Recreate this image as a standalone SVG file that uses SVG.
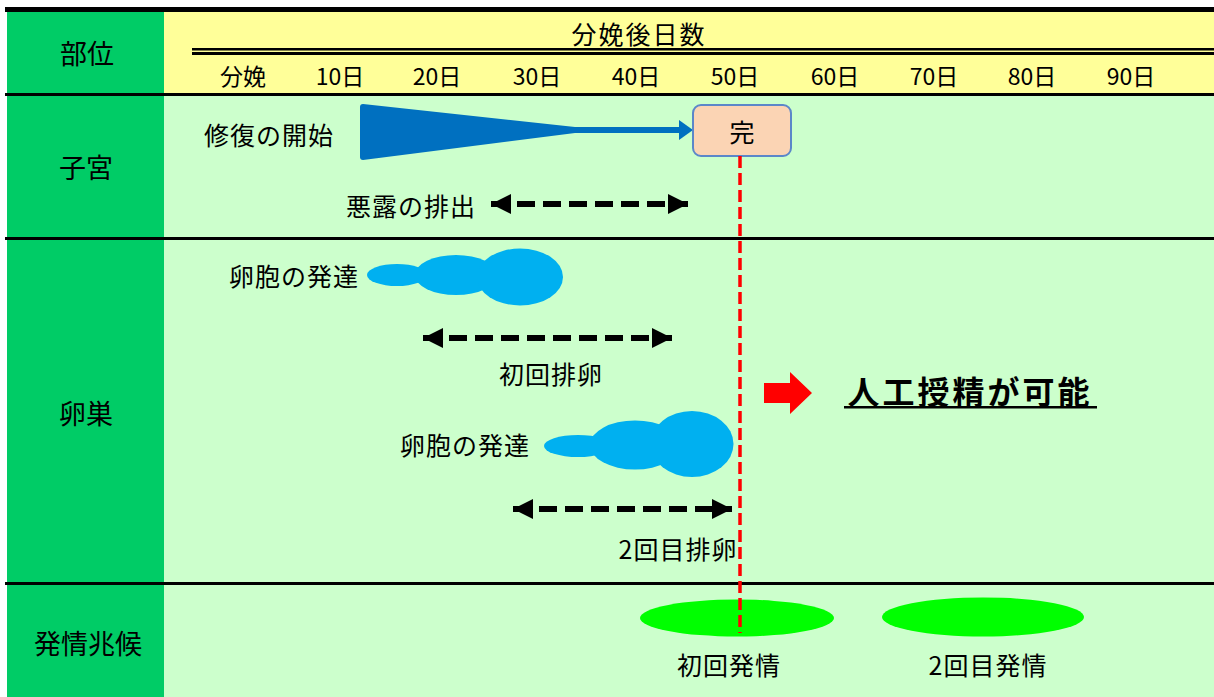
<svg xmlns="http://www.w3.org/2000/svg" width="1214" height="697" viewBox="0 0 1214 697">
<defs>
<style>
text{font-family:"Noto Sans CJK JP","Noto Sans",sans-serif;fill:#000;text-anchor:middle;dominant-baseline:central}
.lbl{font-size:27px}
.tick{font-size:23px}
.t{font-size:25px;letter-spacing:1px}
.dash{stroke:#000;stroke-width:6;stroke-dasharray:18 8;fill:none}
.bar{fill:#000}
.blob{fill:#00B0F0}
.estrus{fill:#00FF00}
</style>
<marker id="ah" viewBox="0 0 20 20" refX="20" refY="10" markerWidth="21" markerHeight="20" markerUnits="userSpaceOnUse" orient="auto-start-reverse">
<path d="M0,0 L20,10 L0,20 z" fill="#000"/>
</marker>
</defs>
<rect width="1214" height="697" fill="#fff"/>
<!-- backgrounds -->
<rect x="164" y="12" width="1050" height="82" fill="#FFFF99"/>
<rect x="164" y="94" width="1050" height="603" fill="#CCFFCC"/>
<rect x="7" y="12" width="157" height="685" fill="#00CC66"/>
<!-- lines -->
<rect class="bar" x="5" y="7" width="1209" height="5"/>
<rect class="bar" x="192" y="48" width="1022" height="2.5"/>
<rect class="bar" x="192" y="52" width="1022" height="3"/>
<rect class="bar" x="5" y="93" width="1209" height="3"/>
<rect class="bar" x="5" y="237" width="1209" height="3"/>
<rect class="bar" x="5" y="582" width="1209" height="3"/>
<!-- header -->
<g id="header">
<text class="lbl" x="87" y="52">部位</text>
<text x="639" y="33" style="font-size:25px;letter-spacing:2px">分娩後日数</text>
<text class="tick" x="243" y="75">分娩</text>
<text class="tick" x="340" y="75">10日</text>
<text class="tick" x="437" y="75">20日</text>
<text class="tick" x="537" y="75">30日</text>
<text class="tick" x="636" y="75">40日</text>
<text class="tick" x="735" y="75">50日</text>
<text class="tick" x="835" y="75">60日</text>
<text class="tick" x="934" y="75">70日</text>
<text class="tick" x="1032" y="75">80日</text>
<text class="tick" x="1131" y="75">90日</text>
</g>
<g id="row-labels">
<text class="lbl" x="86" y="166">子宮</text>
<text class="lbl" x="86" y="412">卵巣</text>
<text class="lbl" x="88" y="642">発情兆候</text>
</g>
<!-- uterus -->
<g id="uterus-repair">
<text class="t" x="269" y="134">修復の開始</text>
<path d="M363,104 L575,127 L575,133 L363,160 Q360,160 360,157 L360,107 Q360,104 363,104 z" fill="#0070C0"/>
<rect x="574" y="127" width="107" height="6" fill="#0070C0"/>
<path d="M679,120 L693,130 L679,140 z" fill="#0070C0"/>
</g>
<g id="complete">
<rect x="693" y="105" width="98" height="51" rx="8" fill="#FBD4B4" stroke="#5B87C9" stroke-width="2"/>
<text x="742" y="131" style="font-size:25px">完</text>
</g>
<g id="lochia">
<text class="t" x="411" y="205">悪露の排出</text>
</g>
<!-- ovary -->
<g id="follicle1">
<text class="t" x="294" y="275">卵胞の発達</text>
<ellipse class="blob" cx="397" cy="275" rx="30" ry="11"/>
<ellipse class="blob" cx="456" cy="275" rx="41" ry="20"/>
<ellipse class="blob" cx="520" cy="277" rx="43" ry="28.5"/>
</g>
<g id="ovulation1">
<text class="t" x="551" y="373">初回排卵</text>
</g>
<g id="follicle2">
<text class="t" x="465" y="444">卵胞の発達</text>
<ellipse class="blob" cx="578" cy="446" rx="34" ry="11"/>
<ellipse class="blob" cx="635" cy="445" rx="45" ry="24.5"/>
<ellipse class="blob" cx="692" cy="444" rx="41.5" ry="33"/>
</g>
<g id="ovulation2">
<text class="t" x="678" y="548">2回目排卵</text>
</g>
<g id="ai">
<path d="M764,383 L790,383 L790,372 L812,393 L790,414 L790,403 L764,403 z" fill="#FF0000"/>
<text x="970" y="390" style="font-size:32px;font-weight:bold;letter-spacing:3px">人工授精が可能</text>
<rect x="844" y="406" width="253" height="2.5" fill="#000"/>
</g>
<!-- estrus -->
<g id="estrus1">
<ellipse class="estrus" cx="737" cy="618" rx="97" ry="18.5"/>
<text class="t" x="729" y="664">初回発情</text>
</g>
<g id="estrus2">
<ellipse class="estrus" cx="983" cy="617" rx="101" ry="19.5"/>
<text class="t" x="988" y="664">2回目発情</text>
</g>
<!-- connectors -->
<g id="connectors">
<line x1="740" y1="156" x2="740" y2="633" stroke="#FF0000" stroke-width="3.5" stroke-dasharray="12 5"/>
<line class="dash" x1="491" y1="204" x2="688" y2="204" marker-start="url(#ah)" marker-end="url(#ah)"/>
<line class="dash" x1="423" y1="338" x2="672" y2="338" marker-start="url(#ah)" marker-end="url(#ah)"/>
<line class="dash" x1="513" y1="509" x2="732" y2="509" marker-start="url(#ah)" marker-end="url(#ah)"/>
</g>
</svg>
